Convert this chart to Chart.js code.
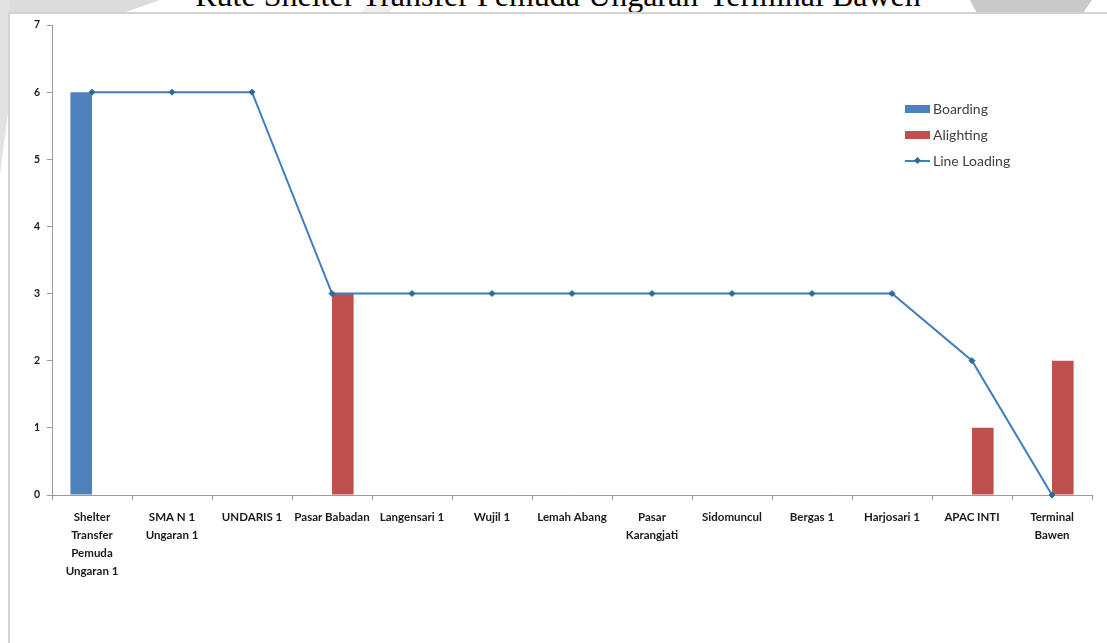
<!DOCTYPE html>
<html>
<head>
<meta charset="utf-8">
<script src="https://cdn.jsdelivr.net/npm/chart.js@4.4.1/dist/chart.umd.min.js"></script>
<style>
  html, body { margin: 0; padding: 0; background: #ffffff; }
  #wrap { position: relative; width: 1107px; height: 643px; overflow: hidden; background: #ffffff; }
  .bg1 { position: absolute; left: 0; top: 0; width: 160px; height: 14px; background: #dcdcdc;
         clip-path: polygon(0 0, 100% 0, 75% 100%, 0 100%); }
  .bg2 { position: absolute; left: 0; top: 0; width: 9px; height: 175px; background: #e2e2e2;
         clip-path: polygon(0 0, 100% 0, 100% 60%, 0 100%); }
  .bg3 { position: absolute; left: 970px; top: 0; width: 122px; height: 14px; background: #c9c9c9;
         clip-path: polygon(0 0, 100% 0, 92% 100%, 6% 100%); }
  .bg4 { position: absolute; left: 360px; top: 0; width: 40px; height: 14px; background: #f0f0f0;
         clip-path: polygon(30% 0, 100% 0, 70% 100%, 0 100%); }
  #title { position: absolute; left: 0; width: 1116px; top: -21px; text-align: center;
           font-family: "Liberation Serif", "Times New Roman", serif; font-size: 32px; line-height: 32px;
           color: #000; white-space: nowrap; }
  #frame { position: absolute; left: 8px; top: 12px; width: 1200px; height: 700px;
           border-left: 2px solid #d2d2d2; border-top: 2px solid #d2d2d2; background: #fff; }
  #c { position: absolute; left: 0; top: 0; }
  #legend { position: absolute; left: 905px; top: 100px; font-family: "Lato", "Open Sans", sans-serif;
            font-size: 14px; color: #404040; }
  .row { position: relative; height: 26px; }
  .sw { position: absolute; left: 0; top: 5px; width: 25px; height: 8px; }
  .lbl { position: absolute; left: 28px; top: 0px; line-height: 18px; white-space: nowrap; }
  .ln { position: absolute; left: 0; top: 8px; width: 25px; height: 2px; background: #3F7DBD; }
  .dm { position: absolute; left: 10px; top: 6px; width: 5px; height: 5px; background: #2C6A9A; transform: rotate(45deg); }
</style>
</head>
<body>
<div id="wrap">
  <div class="bg1"></div>
  <div class="bg2"></div>
  <div class="bg3"></div>
  <div class="bg4"></div>
  <div id="title">Rute Shelter Transfer Pemuda Ungaran-Terminal Bawen</div>
  <div id="frame"></div>
  <canvas id="c" width="1107" height="643"></canvas>
  <div id="legend">
    <div class="row"><div class="sw" style="background:#4F81BD"></div><div class="lbl">Boarding</div></div>
    <div class="row"><div class="sw" style="background:#C0504D"></div><div class="lbl">Alighting</div></div>
    <div class="row"><div class="ln"></div><div class="dm"></div><div class="lbl">Line Loading</div></div>
  </div>
</div>
<script>
const categories = [
  ["Shelter", "Transfer", "Pemuda", "Ungaran 1"],
  ["SMA N 1", "Ungaran 1"],
  "UNDARIS 1",
  "Pasar Babadan",
  "Langensari 1",
  "Wujil 1",
  "Lemah Abang",
  ["Pasar", "Karangjati"],
  "Sidomuncul",
  "Bergas 1",
  "Harjosari 1",
  "APAC INTI",
  ["Terminal", "Bawen"]
];
const boarding    = [6, 0, 0, 0, 0, 0, 0, 0, 0, 0, 0, 0, 0];
const alighting   = [0, 0, 0, 3, 0, 0, 0, 0, 0, 0, 0, 1, 2];
const lineLoading = [6, 6, 6, 3, 3, 3, 3, 3, 3, 3, 3, 2, 0];
const yTicks = [0, 1, 2, 3, 4, 5, 6, 7];

const tickFont = { family: "Lato, 'Open Sans', sans-serif", size: 11.5, weight: "bold", lineHeight: 1.58 };

new Chart(document.getElementById("c"), {
  data: {
    labels: categories,
    datasets: [
      { type: "line", label: "Line Loading", data: lineLoading, order: 0,
        borderColor: "#3F7DBD", backgroundColor: "#2C6A9A", borderWidth: 2,
        pointStyle: "rectRot", pointRadius: 3, pointBackgroundColor: "#2C6A9A", pointBorderColor: "#2C6A9A",
        pointBorderWidth: 1, tension: 0, clip: false },
      { type: "bar", label: "Boarding", data: boarding, order: 1, backgroundColor: "#4F81BD",
        categoryPercentage: 0.54, barPercentage: 1 },
      { type: "bar", label: "Alighting", data: alighting, order: 1, backgroundColor: "#C0504D",
        categoryPercentage: 0.54, barPercentage: 1 }
    ]
  },
  options: {
    responsive: false,
    animation: false,
    events: [],
    layout: { padding: { left: 0, top: 25, right: 15, bottom: 0 } },
    plugins: { legend: { display: false }, title: { display: false }, tooltip: { enabled: false } },
    scales: {
      x: {
        type: "category",
        offset: true,
        grid: { display: true, offset: true, drawOnChartArea: false, drawTicks: true, tickLength: 5, color: "#9a9a9a" },
        border: { display: true, color: "#9a9a9a", width: 1 },
        ticks: { autoSkip: false, maxRotation: 0, minRotation: 0, padding: 8, color: "#1a1a1a", font: tickFont },
        afterFit: (s) => { s.height = 148; }
      },
      y: {
        min: 0, max: 7,
        afterBuildTicks: (s) => { s.ticks = yTicks.map(v => ({ value: v })); },
        grid: { display: true, drawOnChartArea: false, drawTicks: true, tickLength: 5, color: "#9a9a9a" },
        border: { display: true, color: "#9a9a9a", width: 1 },
        ticks: { padding: 7, color: "#1a1a1a", font: { family: "Lato, 'Open Sans', sans-serif", size: 10.5, weight: "bold" } },
        afterFit: (s) => { s.width = 52; }
      }
    }
  }
});
</script>
</body>
</html>
